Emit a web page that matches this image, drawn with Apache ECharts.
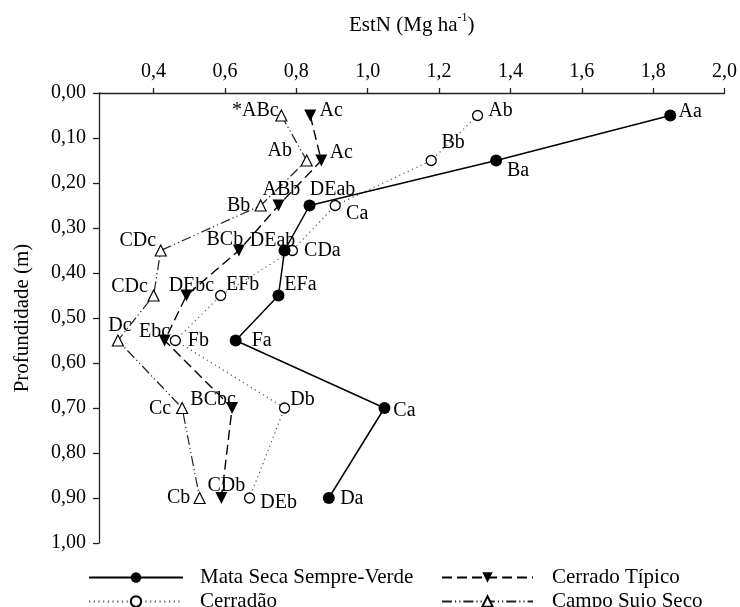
<!DOCTYPE html>
<html>
<head>
<meta charset="utf-8">
<script src="https://cdn.jsdelivr.net/npm/echarts@6/dist/echarts.min.js"></script>
<style>
html,body{margin:0;padding:0;background:#fff;}
#chart{width:740px;height:607px;}
</style>
</head>
<body>
<div id="chart"></div>
<script>
// ---- data ----
const depths = [0.05, 0.15, 0.25, 0.35, 0.45, 0.55, 0.70, 0.90];
const seriesNames = ['Mata Seca Sempre-Verde', 'Cerradão', 'Cerrado Típico', 'Campo Sujo Seco'];
const mataValues = [1.848, 1.360, 0.837, 0.767, 0.750, 0.630, 1.047, 0.891];
const cerradaoValues = [1.308, 1.178, 0.909, 0.789, 0.588, 0.461, 0.767, 0.669];
const tipicoValues = [0.839, 0.870, 0.750, 0.639, 0.492, 0.431, 0.620, 0.590];
const campoValues = [0.758, 0.829, 0.700, 0.420, 0.400, 0.300, 0.480, 0.529];
const mataLetters = ['Aa', 'Ba', 'DEab', 'DEab', 'EFa', 'Fa', 'Ca', 'Da'];
const cerradaoLetters = ['Ab', 'Bb', 'Ca', 'CDa', 'EFb', 'Fb', 'Db', 'DEb'];
const tipicoLetters = ['Ac', 'Ac', 'ABb', 'BCb', 'DEbc', 'Ebc', 'BCbc', 'CDb'];
const campoLetters = ['*ABc', 'Ab', 'Bb', 'CDc', 'CDc', 'Dc', 'Cc', 'Cb'];
const xTicks = [0.4, 0.6, 0.8, 1.0, 1.2, 1.4, 1.6, 1.8, 2.0];
const xMin = 0.247, xMax = 2.0;
const yMin = 0, yMax = 1, yStep = 0.1;

// ---- styling (label placement offsets, px) ----
const mataOffsets = [[20,-4],[22,10],[23,-16],[-12,-10],[22,-11],[26,0],[20,3],[23,1]];
const cerradaoOffsets = [[23,-5],[22,-18],[22,8],[30,0],[22,-11],[23,0],[18,-8],[29,5]];
const tipicoOffsets = [[21,-5],[20,-8],[3,-16],[-14,-11],[5,-10],[-10,-9],[-19,-8],[5,-12]];
const campoOffsets = [[-26,-5],[-27,-10],[-22,0],[-23,-10],[-24,-9],[2,-15],[-22,1],[-21,0]];

const FONT = "'Liberation Serif', 'Times New Roman', serif";

function buildData(values, letters, offsets) {
  return values.map((v, i) => ({
    value: [v, depths[i]],
    label: {
      show: true,
      formatter: letters[i],
      position: 'inside',
      offset: offsets[i]
    }
  }));
}

const labelStyle = {
  show: true,
  color: '#000',
  fontFamily: FONT,
  fontSize: 20,
  textBorderWidth: 0,
  align: 'center',
  verticalAlign: 'middle'
};

const chart = echarts.init(document.getElementById('chart'), null, {renderer: 'canvas'});
const option = {
  backgroundColor: '#fff',
  animation: false,
  textStyle: {fontFamily: FONT},
  grid: {left: 99, right: 15, top: 93, bottom: 64, containLabel: false},
  xAxis: {
    type: 'value',
    position: 'top',
    min: xMin,
    max: xMax,
    name: '{a|EstN (Mg ha}{s|-1}{a|)}',
    nameLocation: 'middle',
    nameGap: 57,
    nameTextStyle: {
      rich: {
        a: {fontFamily: FONT, fontSize: 21, color: '#000', lineHeight: 24, verticalAlign: 'bottom'},
        s: {fontFamily: FONT, fontSize: 12, color: '#000', lineHeight: 24, verticalAlign: 'top'}
      }
    },
    splitLine: {show: false},
    axisLine: {show: true, lineStyle: {color: '#222', width: 1.3}},
    axisTick: {show: true, inside: false, length: 5, customValues: xTicks, lineStyle: {color: '#222', width: 1.3}},
    axisLabel: {
      customValues: xTicks,
      margin: 11,
      fontFamily: FONT,
      fontSize: 20,
      color: '#000',
      formatter: v => v.toFixed(1).replace('.', ',')
    }
  },
  yAxis: {
    type: 'value',
    inverse: true,
    min: yMin,
    max: yMax,
    interval: yStep,
    name: 'Profundidade (m)',
    nameLocation: 'middle',
    nameRotate: 90,
    nameGap: 66,
    nameTextStyle: {fontFamily: FONT, fontSize: 21, color: '#000'},
    splitLine: {show: false},
    axisLine: {show: true, lineStyle: {color: '#222', width: 1.3}},
    axisTick: {show: true, inside: false, length: 6, lineStyle: {color: '#222', width: 1.3}},
    axisLabel: {
      margin: 13,
      fontFamily: FONT,
      fontSize: 20,
      color: '#000',
      formatter: v => v.toFixed(2).replace('.', ',')
    }
  },
  legend: [
    {
      data: [seriesNames[0], seriesNames[1]],
      orient: 'vertical',
      left: 83,
      top: 562,
      height: 120,
      itemWidth: 94,
      itemHeight: 13,
      itemGap: 3,
      textStyle: {fontFamily: FONT, fontSize: 21, color: '#000', padding: [0, 0, 0, 12]}
    },
    {
      data: [seriesNames[2], seriesNames[3]],
      orient: 'vertical',
      left: 436,
      top: 562,
      height: 120,
      itemWidth: 91,
      itemHeight: 13,
      itemGap: 3,
      textStyle: {fontFamily: FONT, fontSize: 21, color: '#000', padding: [0, 0, 0, 14]}
    }
  ],
  series: [
    {
      name: seriesNames[0],
      type: 'line',
      data: buildData(mataValues, mataLetters, mataOffsets),
      symbol: 'circle',
      symbolSize: 12,
      itemStyle: {color: '#000', borderColor: '#000', borderWidth: 0},
      lineStyle: {color: '#000', width: 1.5, type: 'solid'},
      label: labelStyle,
      z: 4
    },
    {
      name: seriesNames[1],
      type: 'line',
      data: buildData(cerradaoValues, cerradaoLetters, cerradaoOffsets),
      symbol: 'circle',
      symbolSize: 10,
      itemStyle: {color: '#fff', borderColor: '#000', borderWidth: 1.3},
      lineStyle: {color: '#555', width: 1.2, type: [1.2, 3.5]},
      label: labelStyle,
      z: 3
    },
    {
      name: seriesNames[2],
      type: 'line',
      data: buildData(tipicoValues, tipicoLetters, tipicoOffsets),
      symbol: 'triangle',
      symbolRotate: 180,
      symbolSize: 12,
      itemStyle: {color: '#000', borderColor: '#000', borderWidth: 0},
      lineStyle: {color: '#000', width: 1.4, type: [10, 5]},
      label: labelStyle,
      z: 3
    },
    {
      name: seriesNames[3],
      type: 'line',
      data: buildData(campoValues, campoLetters, campoOffsets),
      symbol: 'triangle',
      symbolSize: 11,
      itemStyle: {color: '#fff', borderColor: '#000', borderWidth: 1.2},
      lineStyle: {color: '#222', width: 1.2, type: [10, 3, 1.2, 3, 1.2, 3]},
      label: labelStyle,
      z: 3
    }
  ]
};
chart.setOption(option);
</script>
</body>
</html>
